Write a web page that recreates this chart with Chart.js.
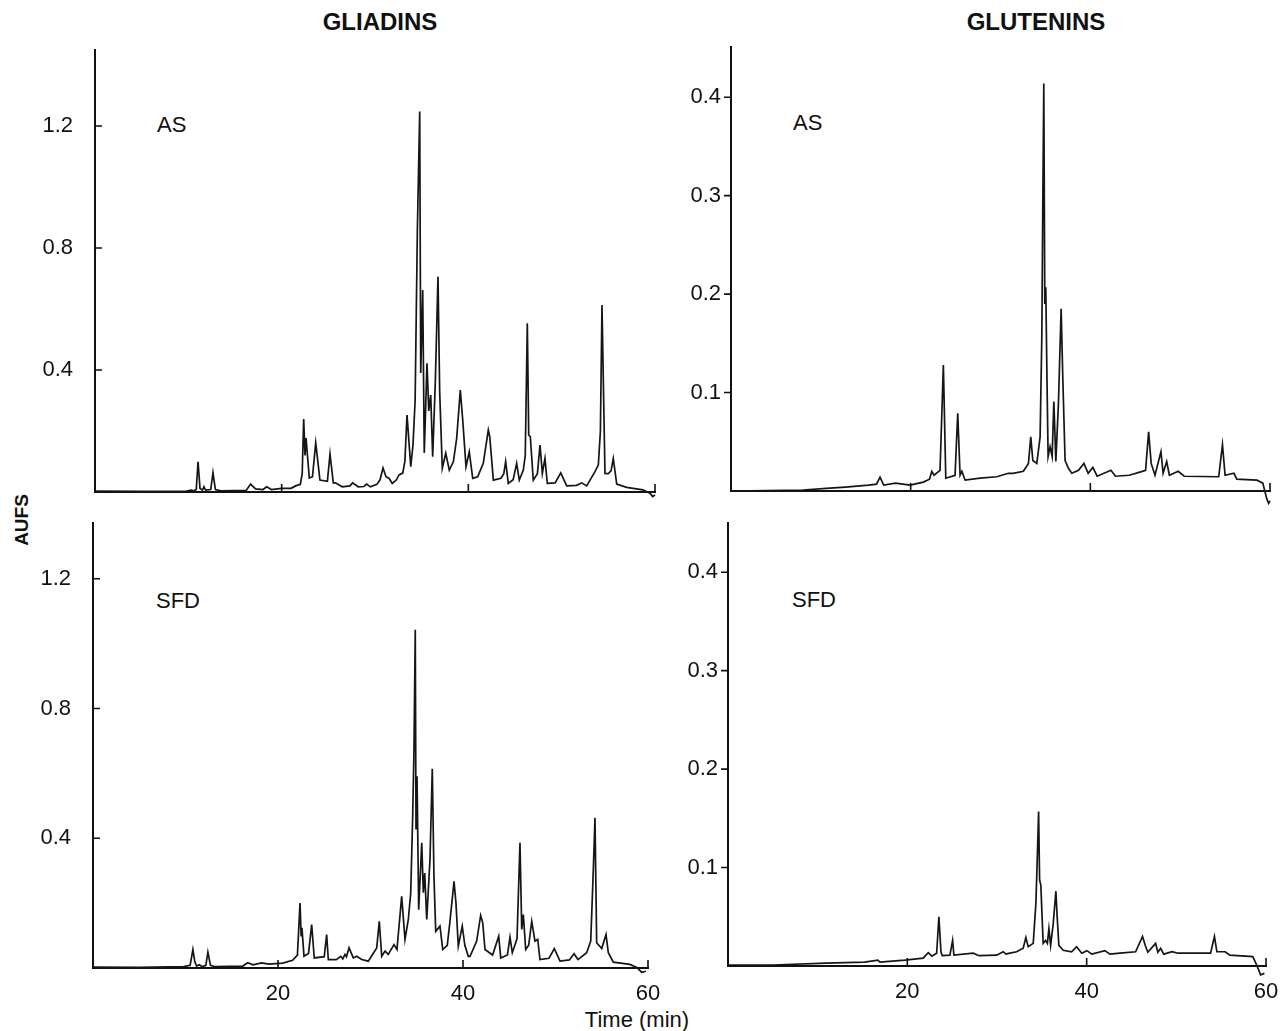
<!DOCTYPE html>
<html>
<head>
<meta charset="utf-8">
<script src="https://cdn.jsdelivr.net/npm/chart.js@4.4.1/dist/chart.umd.min.js"></script>
<style>
  body { margin: 0; background: #fff; }
  #wrap { position: relative; width: 1280px; height: 1031px; background: #fff; overflow: hidden;
          font-family: 'Liberation Sans', Arial, Helvetica, sans-serif; color: #111; }
  #wrap canvas { position: absolute; }
  .txt { position: absolute; transform: translate(-50%, -50%); white-space: nowrap; }
  .title { font-weight: bold; font-size: 24px; }
  .lab { font-size: 22px; transform: translate(0, -50%); }
</style>
</head>
<body>
<div id="wrap">
  <div class="txt title" style="left:380px; top:22px;">GLIADINS</div>
  <div class="txt title" style="left:1036px; top:22px;">GLUTENINS</div>
  <div class="txt title" style="left:22px; top:520px; transform: translate(-50%,-50%) rotate(-90deg); font-size:19px;">AUFS</div>
  <div class="txt" style="left:637px; top:1020px; font-size:22px;">Time (min)</div>
  <div class="txt lab" style="left:157px; top:125px;">AS</div>
  <div class="txt lab" style="left:156px; top:601px;">SFD</div>
  <div class="txt lab" style="left:793px; top:123px;">AS</div>
  <div class="txt lab" style="left:792px; top:600px;">SFD</div>
  <canvas id="gliAS"></canvas>
  <canvas id="gliSFD"></canvas>
  <canvas id="gluAS"></canvas>
  <canvas id="gluSFD"></canvas>
</div>
<script>
// tick values
const timeTicks = [20, 40, 60];
const gliTicks = [0.4, 0.8, 1.2];
const gluTicks = [0.1, 0.2, 0.3, 0.4];

// chromatograms, [time (min), AUFS]
const gliadinAS = [
  [0,0.003],[5,0.002],[9.8,0.003],[10.3,0.006],[10.6,0.004],[10.85,0.008],[11.04,0.099],[11.25,0.012],
  [11.5,0.006],[11.67,0.017],[11.85,0.006],[12.4,0.008],[12.64,0.063],[12.9,0.008],[13.5,0.004],
  [16.2,0.005],[16.67,0.026],[17.2,0.01],[18.0,0.008],[18.4,0.017],[18.9,0.008],[20.0,0.012],
  [21.0,0.012],[21.5,0.02],[22.0,0.025],[22.2,0.06],[22.36,0.239],[22.5,0.12],[22.61,0.177],
  [22.96,0.046],[23.3,0.05],[23.65,0.161],[24.1,0.039],[24.9,0.035],[25.18,0.125],[25.53,0.03],
  [25.75,0.03],[26.5,0.017],[27.3,0.02],[27.61,0.03],[28.2,0.017],[28.8,0.018],[29.11,0.026],
  [29.5,0.017],[30.2,0.025],[30.54,0.04],[30.86,0.079],[31.18,0.05],[31.5,0.045],[31.85,0.028],
  [32.3,0.04],[32.57,0.056],[32.97,0.062],[33.2,0.1],[33.43,0.252],[33.83,0.083],[34.07,0.154],
  [34.3,0.3],[34.54,0.86],[34.79,1.247],[34.9,0.39],[35.11,0.662],[35.28,0.128],[35.57,0.422],
  [35.76,0.266],[35.97,0.318],[36.18,0.116],[36.46,0.357],[36.75,0.706],[36.93,0.329],[37.21,0.078],
  [37.58,0.127],[37.96,0.072],[38.4,0.1],[38.75,0.176],[39.14,0.334],[39.4,0.236],[39.75,0.083],
  [40.1,0.132],[40.47,0.045],[41.0,0.05],[41.6,0.094],[42.14,0.203],[42.3,0.18],[42.68,0.039],
  [43.5,0.045],[43.8,0.06],[44.0,0.1],[44.28,0.028],[44.8,0.04],[45.18,0.094],[45.46,0.039],
  [45.89,0.072],[46.1,0.12],[46.32,0.553],[46.47,0.187],[46.64,0.181],[46.96,0.039],[47.4,0.06],
  [47.68,0.154],[47.93,0.061],[48.21,0.11],[48.46,0.028],[49.3,0.03],[49.9,0.063],[50.54,0.02],
  [51.6,0.022],[52.15,0.03],[52.68,0.02],[53.57,0.067],[53.93,0.089],[54.15,0.2],[54.32,0.613],
  [54.64,0.061],[55.0,0.06],[55.3,0.07],[55.53,0.11],[55.9,0.026],[56.96,0.015],[58.7,0.007],
  [59.46,-0.004],[59.75,-0.015],[60,-0.01]
];

const gliadinSFD = [
  [0,0.003],[5,0.002],[9.8,0.004],[10.5,0.008],[10.8,0.057],[11.0,0.02],[11.2,0.006],[11.5,0.01],
  [11.8,0.004],[12.2,0.008],[12.42,0.049],[12.7,0.008],[13.2,0.004],[16.2,0.006],[16.72,0.016],
  [17.3,0.01],[18.22,0.016],[19.0,0.012],[20.5,0.015],[21.58,0.024],[22.1,0.04],[22.38,0.2],
  [22.5,0.1],[22.59,0.124],[22.81,0.036],[23.3,0.045],[23.64,0.134],[23.92,0.031],[25.0,0.035],
  [25.26,0.103],[25.44,0.026],[26.3,0.026],[26.78,0.036],[27.0,0.028],[27.24,0.042],[27.4,0.035],
  [27.68,0.062],[28.14,0.031],[28.51,0.036],[29.05,0.026],[29.76,0.021],[30.67,0.062],[30.95,0.144],
  [31.21,0.036],[31.57,0.052],[31.92,0.042],[32.54,0.072],[32.86,0.057],[33.37,0.221],[33.73,0.088],
  [34.09,0.15],[34.35,0.232],[34.56,0.468],[34.7,0.673],[34.84,1.043],[34.92,0.427],[35.03,0.591],
  [35.21,0.18],[35.54,0.386],[35.71,0.232],[35.86,0.293],[36.08,0.15],[36.43,0.334],[36.68,0.614],
  [36.86,0.283],[37.05,0.113],[37.51,0.129],[37.81,0.057],[38.3,0.07],[38.59,0.144],[39.03,0.267],
  [39.24,0.2],[39.49,0.067],[39.92,0.129],[40.2,0.07],[40.57,0.036],[40.76,0.036],[41.48,0.083],
  [41.91,0.162],[42.13,0.14],[42.38,0.057],[43.2,0.04],[43.86,0.098],[44.08,0.031],[44.8,0.04],
  [45.08,0.095],[45.33,0.047],[45.84,0.09],[46.16,0.386],[46.35,0.119],[46.52,0.165],[46.78,0.057],
  [47.1,0.07],[47.43,0.144],[47.78,0.083],[48.08,0.088],[48.32,0.026],[49.3,0.03],[49.87,0.06],
  [50.49,0.021],[51.5,0.025],[52.0,0.044],[52.43,0.026],[53.37,0.047],[53.81,0.083],[54.09,0.304],
  [54.27,0.463],[54.45,0.078],[55.0,0.06],[55.46,0.103],[55.71,0.047],[56.25,0.018],[58.05,0.011],
  [58.78,0.002],[59.32,-0.013],[59.78,-0.01]
];

const gluteninAS = [
  [0,0],[8,0.001],[11.02,0.003],[12.74,0.004],[15.31,0.006],[16.2,0.007],[16.59,0.014],[17.0,0.006],
  [18.31,0.008],[19.93,0.006],[21.41,0.009],[22.1,0.012],[22.35,0.02],[22.6,0.016],[23.27,0.021],
  [23.64,0.128],[23.91,0.013],[24.94,0.016],[25.24,0.079],[25.5,0.016],[25.7,0.02],[26.06,0.011],
  [27.73,0.013],[29.59,0.0145],[30.88,0.018],[31.4,0.018],[32.55,0.02],[33.11,0.028],[33.37,0.055],
  [33.6,0.031],[34.04,0.028],[34.41,0.055],[34.6,0.157],[34.71,0.292],[34.82,0.414],[34.93,0.19],
  [35.04,0.207],[35.16,0.123],[35.3,0.035],[35.52,0.045],[35.75,0.035],[35.94,0.091],[36.16,0.03],
  [36.45,0.089],[36.75,0.185],[36.94,0.113],[37.19,0.031],[37.56,0.023],[37.94,0.018],[38.68,0.021],
  [39.29,0.028],[39.76,0.018],[40.28,0.024],[40.76,0.015],[42.29,0.021],[42.8,0.015],[44.32,0.016],
  [45.8,0.02],[46.15,0.021],[46.49,0.06],[46.77,0.028],[47.2,0.016],[47.86,0.04],[48.1,0.018],
  [48.5,0.03],[48.8,0.016],[49.78,0.02],[50.45,0.015],[54.29,0.0145],[54.71,0.047],[55.0,0.016],
  [55.99,0.018],[56.3,0.012],[58.55,0.011],[59.2,0.008],[59.63,-0.0075],[59.85,-0.0125],[60,-0.01]
];

const gluteninSFD = [
  [0,0.001],[5,0.001],[10.93,0.003],[15.23,0.004],[16.72,0.006],[16.95,0.004],[19.73,0.006],
  [21.77,0.008],[22.33,0.0135],[22.74,0.01],[23.27,0.013],[23.52,0.05],[23.75,0.0145],[23.89,0.0105],
  [24.75,0.011],[25.05,0.026],[25.19,0.011],[27.35,0.013],[28.0,0.0105],[29.96,0.011],[30.69,0.0145],
  [31.0,0.012],[31.44,0.013],[32.19,0.0145],[32.92,0.018],[33.22,0.029],[33.48,0.0196],[34.04,0.023],
  [34.34,0.064],[34.53,0.121],[34.64,0.157],[34.75,0.0875],[34.89,0.082],[35.01,0.054],[35.15,0.023],
  [35.42,0.026],[35.62,0.023],[35.79,0.038],[35.98,0.021],[36.27,0.043],[36.57,0.076],[36.71,0.05],
  [36.9,0.021],[37.38,0.016],[38.32,0.0145],[38.87,0.0196],[39.46,0.013],[40.02,0.0156],[40.58,0.012],
  [42.03,0.0156],[42.59,0.012],[43.7,0.013],[45.46,0.0145],[46.23,0.03],[46.53,0.021],[46.82,0.014],
  [47.69,0.023],[47.94,0.014],[48.25,0.018],[48.6,0.012],[49.53,0.0145],[50.17,0.013],[53.82,0.013],
  [54.25,0.03],[54.52,0.0145],[55.45,0.0145],[55.96,0.011],[58.53,0.0095],[58.96,0.001],[59.4,-0.009],
  [59.82,-0.0075]
];

Chart.defaults.font.family = "'Liberation Sans', Arial, Helvetica, sans-serif";
Chart.defaults.font.size = 22;
Chart.defaults.color = '#111';

// short tick marks drawn on the axes (inside or outside)
const axisMarks = {
  id: 'axisMarks',
  afterDraw(chart, args, opts) {
    const { ctx, chartArea, scales } = chart;
    ctx.save();
    ctx.strokeStyle = '#111';
    ctx.lineWidth = 1.6;
    ctx.beginPath();
    timeTicks.forEach(t => {
      const px = scales.x.getPixelForValue(t);
      ctx.moveTo(px, chartArea.bottom);
      ctx.lineTo(px, chartArea.bottom - 8);
    });
    opts.yTicks.forEach(v => {
      const py = scales.y.getPixelForValue(v);
      ctx.moveTo(chartArea.left, py);
      ctx.lineTo(chartArea.left + opts.dir * 7, py);
    });
    ctx.stroke();
    ctx.restore();
  }
};

// big fixed paddings so the plot area lands exactly on the given box
const AXW = 80, PADT = 40, PADR = 40;

function panel(id, series, box) {
  const xh = box.xLabels ? 50 : 40;
  const cv = document.getElementById(id);
  cv.width = AXW + (box.R - box.L) + PADR;
  cv.height = PADT + (box.B - box.T) + xh;
  cv.style.left = (box.L - AXW) + 'px';
  cv.style.top = (box.T - PADT) + 'px';

  return new Chart(cv.getContext('2d'), {
    type: 'line',
    data: {
      datasets: [{
        data: series.map(p => ({ x: p[0], y: p[1] })),
        borderColor: '#151515',
        borderWidth: 1.7,
        pointRadius: 0,
        tension: 0,
        fill: false,
        clip: false
      }]
    },
    options: {
      responsive: false,
      animation: false,
      events: [],
      layout: { padding: { left: 0, top: PADT, right: PADR, bottom: 0 } },
      plugins: {
        legend: { display: false },
        tooltip: { enabled: false },
        axisMarks: { yTicks: box.ticks, dir: box.dir }
      },
      scales: {
        x: {
          type: 'linear',
          min: 0,
          max: 60,
          afterBuildTicks: s => { s.ticks = timeTicks.map(v => ({ value: v })); },
          afterFit: s => { s.height = xh; },
          grid: { drawOnChartArea: false, drawTicks: false },
          border: { display: true, color: '#111', width: 2 },
          ticks: { display: box.xLabels, padding: 13, maxRotation: 0, color: '#111' }
        },
        y: {
          min: 0,
          max: box.yMax,
          afterBuildTicks: s => { s.ticks = box.ticks.map(v => ({ value: v })); },
          afterFit: s => { s.width = AXW; },
          grid: { drawOnChartArea: false, drawTicks: false },
          border: { display: true, color: '#111', width: 2 },
          ticks: { padding: box.pad, color: '#111', callback: v => v.toFixed(1) }
        }
      }
    },
    plugins: [axisMarks]
  });
}

panel('gliAS', gliadinAS, { L: 95, R: 655, T: 50, B: 492, yMax: 1.449, ticks: gliTicks, dir: 1, pad: 22, xLabels: false });
panel('gliSFD', gliadinSFD, { L: 93, R: 648, T: 523, B: 968, yMax: 1.372, ticks: gliTicks, dir: 1, pad: 22, xLabels: true });
panel('gluAS', gluteninAS, { L: 731, R: 1270, T: 47, B: 491, yMax: 0.451, ticks: gluTicks, dir: -1, pad: 10, xLabels: false });
panel('gluSFD', gluteninSFD, { L: 728, R: 1266, T: 523, B: 966, yMax: 0.45, ticks: gluTicks, dir: -1, pad: 10, xLabels: true });
</script>
</body>
</html>
